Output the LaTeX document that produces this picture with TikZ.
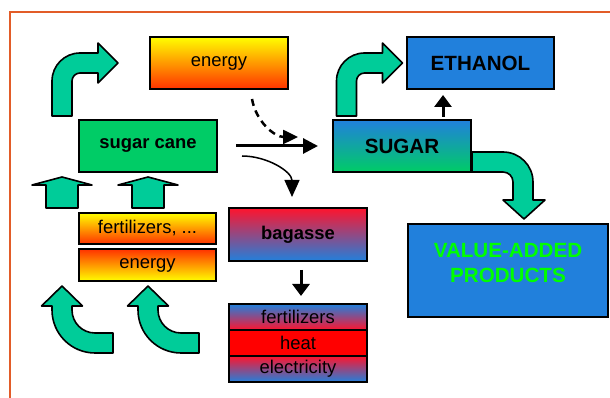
\documentclass[tikz,border=0pt]{standalone}
\usepackage{fontspec}
\setmainfont{Liberation Sans}
\usetikzlibrary{positioning,arrows.meta}

\definecolor{arrowgreen}{RGB}{0,204,153}
\definecolor{canegreen}{RGB}{0,204,102}
\definecolor{boxblue}{RGB}{33,128,220}
\definecolor{boxred}{RGB}{255,20,45}
\definecolor{mauve}{RGB}{190,95,160}
\definecolor{flamered}{RGB}{255,50,0}
\definecolor{lightflame}{RGB}{255,200,0}
\definecolor{framered}{RGB}{226,92,40}
\definecolor{textgreen}{RGB}{0,255,0}

\begin{document}
\begin{tikzpicture}[x=1pt,y=1pt,
	box/.style={draw=black,line width=1.6pt,rectangle,inner sep=2pt,outer sep=0pt,font=\fontsize{18.4}{21}\selectfont},
	bigbox/.style={box,minimum width=138pt,minimum height=52pt,font=\bfseries\fontsize{18.4}{21}\selectfont},
	capsbox/.style={bigbox,font=\bfseries\fontsize{20.6}{25}\selectfont},
	thinbox/.style={box,minimum width=138pt,minimum height=26pt},
	fatarrow/.style={draw=black,fill=arrowgreen,line width=1.6pt,line join=round},
	flow/.style={line width=3pt,-{Triangle[length=15pt,width=15pt]}},
	smallflow/.style={line width=3pt,-{Triangle[length=12pt,width=17pt]}}]
\useasboundingbox (0,0) rectangle (610,398);
\draw[framered,line width=2pt] (610,386) -- (10,386) -- (10,0);

\node[box,minimum width=138pt,minimum height=52pt,top color=yellow,bottom color=flamered] (energytop) at (219,335) {energy};
\node[capsbox,minimum width=147pt,fill=boxblue] (ethanol) at (480.5,335) {ETHANOL};
\node[bigbox,fill=canegreen] (cane) at (148,252) {sugar cane};
\node[capsbox,top color=boxblue,bottom color=canegreen] (sugar) at (402,252) {SUGAR};
\node[bigbox,minimum height=53pt,top color=boxred,middle color=mauve,bottom color=boxblue] (bagasse) at (298,163.5) {bagasse};
\node[box,minimum width=137pt,minimum height=31pt,top color=yellow,middle color=lightflame,bottom color=flamered] (fert1) at (147.5,169.5) {fertilizers, ...};
\node[box,minimum width=137pt,minimum height=32pt,top color=flamered,middle color=lightflame,bottom color=yellow,below=5pt of fert1] (energybot) {energy};
\node[thinbox,top color=boxblue,middle color=mauve,bottom color=boxred] (fert2) at (298,81) {fertilizers};
\node[thinbox,fill=red,below=0pt of fert2] (heat) {heat};
\node[thinbox,top color=boxred,middle color=mauve,bottom color=boxblue,below=0pt of heat] (elec) {electricity};
\node[capsbox,minimum width=200pt,minimum height=93pt,fill=boxblue,text=textgreen,align=center,text depth=16pt] (products) at (508,127.5) {VALUE-ADDED\\PRODUCTS};

\foreach \x in {62,148}
	\draw[fatarrow] (\x-16,190) -- (\x-16,213) -- (\x-30,213) -- (\x,221) -- (\x+30,213) -- (\x+16,213) -- (\x+16,190) -- cycle;
\foreach \x in {0,86}
	\draw[fatarrow,xshift=\x] (52,88) arc[start angle=180,end angle=270,radius=43] -- (113,45) -- (113,65) -- (95,65) arc[start angle=270,end angle=180,radius=23] -- (72,92) -- (82.5,92) -- (62,112) -- (41.5,92) -- (52,92) -- cycle;
\foreach \x in {0,284.5}
	\draw[fatarrow,xshift=\x] (52,282) -- (52,317) arc[start angle=180,end angle=90,radius=28] -- (98,345) -- (98,355) -- (118,335) -- (98,315) -- (98,325) -- (80,325) arc[start angle=90,end angle=180,radius=8] -- (72,282) -- cycle;
\draw[fatarrow] (472,246) -- (503,246) arc[start angle=90,end angle=0,radius=30] -- (533,198) -- (545,198) -- (524,179) -- (503,198) -- (513,198) -- (513,216) arc[start angle=0,end angle=90,radius=10] -- (472,226) -- cycle;

\draw[flow,shorten <=19pt,shorten >=15pt] (cane) -- (sugar);
\draw[line width=2.5pt,dash pattern=on 7pt off 5pt,-{Triangle[length=15pt,width=14pt]}] ([xshift=33pt,yshift=-10pt]energytop.south) to[out=-80,in=180] ([xshift=-35pt,yshift=9pt]sugar.west);
\draw[line width=1.5pt,-{Triangle[length=17pt,width=15pt]}] ([xshift=25pt,yshift=-10pt]cane.east) to[out=0,in=90] ([xshift=-6pt,yshift=11pt]bagasse.north);
\draw[smallflow] ([xshift=41pt,yshift=3pt]sugar.north) -- ([xshift=-37.5pt,yshift=-6pt]ethanol.south);
\draw[smallflow] ([xshift=3pt,yshift=-9pt]bagasse.south) -- ([xshift=3pt,yshift=8pt]fert2.north);
\end{tikzpicture}
\end{document}
